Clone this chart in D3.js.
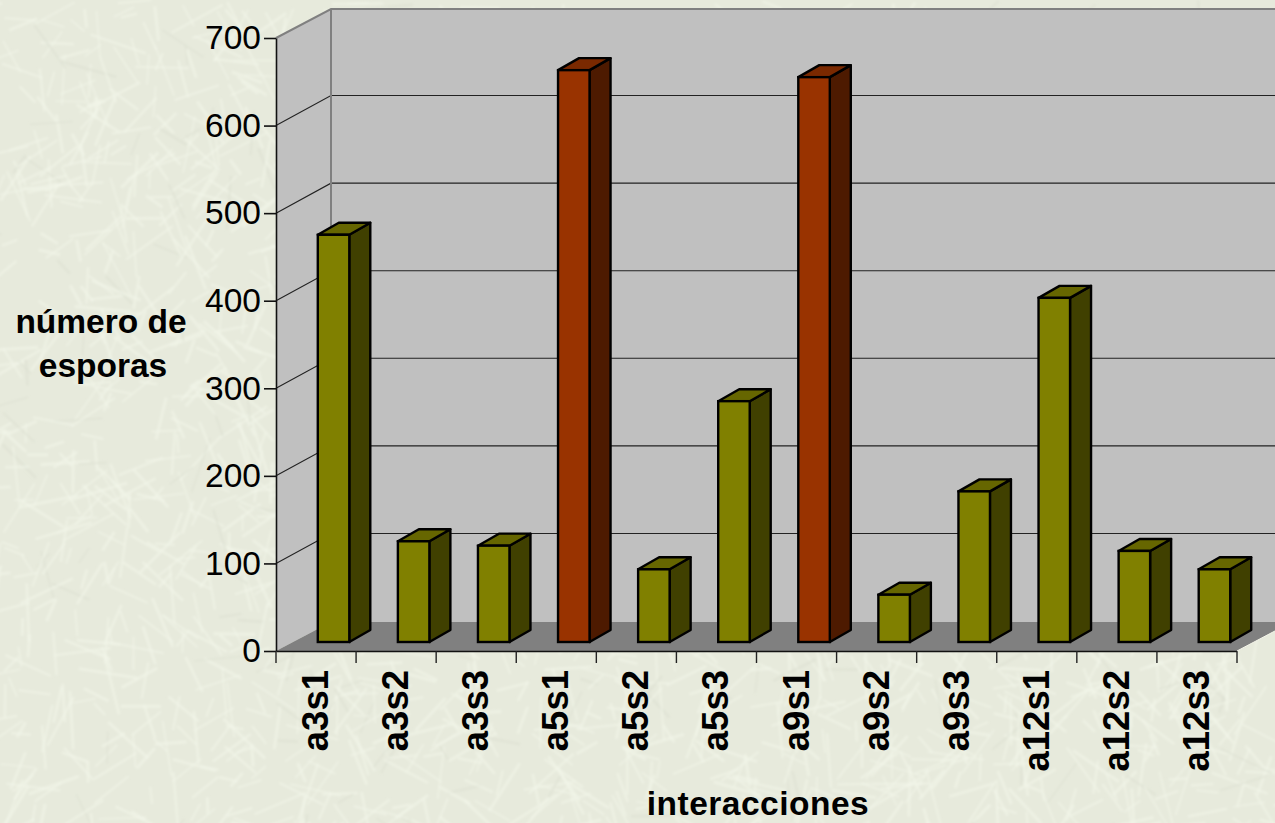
<!DOCTYPE html>
<html><head><meta charset="utf-8">
<script src="https://d3js.org/d3.v7.min.js"></script>
<style>html,body{margin:0;padding:0;background:#e9ecdd;overflow:hidden}svg{display:block}text{font-family:"Liberation Sans",Arial,sans-serif;fill:#000}</style>
</head><body><svg id="c" width="1275" height="823"></svg>
<script>
const categories=["a3s1","a3s2","a3s3","a5s1","a5s2","a5s3","a9s1","a9s2","a9s3","a12s1","a12s2","a12s3"];
const values=[465,115,110,653,83,275,645,54,172,393,104,83];
const highlighted=["a5s1","a9s1"];
const yTicks=[0,100,200,300,400,500,600,700];

const W=1275,H=823;
const svg=d3.select("#c");
// decorative paper-fibre backdrop (seeded, not data)
const defs=svg.append("defs");
defs.append("filter").attr("id","soft").attr("x","-20%").attr("y","-20%").attr("width","140%").attr("height","140%")
  .append("feGaussianBlur").attr("stdDeviation",1.1);
svg.append("rect").attr("width",W).attr("height",H).attr("fill","#e7eadc");
const rnd=d3.randomLcg(0.37),fib=svg.append("g").attr("filter","url(#soft)");
for(let i=0;i<2600;i++){
  const x=rnd()*W,y=rnd()*H,a=rnd()*Math.PI,l=16+rnd()*44;
  fib.append("line").attr("x1",x).attr("y1",y).attr("x2",x+Math.cos(a)*l).attr("y2",y+Math.sin(a)*l)
    .attr("stroke",rnd()<0.9?"#f3f5ea":"#dde0d1").attr("stroke-width",1.6+rnd()*1.6).attr("stroke-opacity",.55);
}

const x=d3.scaleBand().domain(categories).range([276,1237]);
const y=d3.scaleLinear().domain([0,700]).range([651,38]);
const wallD={x:55,y:-29},barShift={x:17.5,y:-9},barD={x:21,y:-12},barW=31.5;
const x0=x.range()[0],x1=x.range()[1],y0=y(0),yT=y(700);
const pts=a=>a.map(p=>p.join(",")).join(" ");

// walls and floor
svg.append("polygon").attr("fill","#c0c0c0").attr("points",pts([[x0,yT],[x0+wallD.x,yT+wallD.y],[x0+wallD.x,y0+wallD.y],[x0,y0]]));
svg.append("polygon").attr("fill","#c0c0c0").attr("points",pts([[x0+wallD.x,yT+wallD.y],[W+2,yT+wallD.y],[W+2,y0+wallD.y],[x0+wallD.x,y0+wallD.y]]));
svg.append("polygon").attr("fill","#808080").attr("points",pts([[x0,y0],[x1,y0],[x1+wallD.x,y0+wallD.y],[x0+wallD.x,y0+wallD.y]]));
// gridlines
svg.append("g").selectAll("path").data(yTicks.slice(1,-1)).join("path").attr("fill","none").attr("stroke","#222").attr("stroke-width",1.1)
  .attr("d",v=>`M${x0},${y(v)}L${x0+wallD.x},${y(v)+wallD.y-1}L${W+2},${y(v)+wallD.y-1}`);
// wall edges
svg.append("path").attr("fill","none").attr("stroke","#808080").attr("stroke-width",2)
  .attr("d",`M${x0},${yT}L${x0+wallD.x},${yT+wallD.y}L${W+2},${yT+wallD.y}M${x0+wallD.x},${yT+wallD.y}V${y0+wallD.y}`);

// bars
const bars=svg.append("g").selectAll("g").data(categories.map((c,i)=>({c,v:values[i]}))).join("g");
const bx=d=>x(d.c)+x.bandwidth()/2+barShift.x-barW/2;
const bb=y0+barShift.y;
const by=d=>y(d.v)+barShift.y;
const hi=d=>highlighted.includes(d.c);
const sw=2.4;
bars.append("polygon").attr("fill",d=>hi(d)?"#4d1a00":"#404000").attr("stroke","#000").attr("stroke-width",sw).attr("stroke-linejoin","round")
  .attr("points",d=>pts([[bx(d)+barW,by(d)],[bx(d)+barW+barD.x,by(d)+barD.y],[bx(d)+barW+barD.x,bb+barD.y],[bx(d)+barW,bb]]));
bars.append("polygon").attr("fill",d=>hi(d)?"#7a2900":"#666600").attr("stroke","#000").attr("stroke-width",sw).attr("stroke-linejoin","round")
  .attr("points",d=>pts([[bx(d),by(d)],[bx(d)+barD.x,by(d)+barD.y],[bx(d)+barW+barD.x,by(d)+barD.y],[bx(d)+barW,by(d)]]));
bars.append("rect").attr("fill",d=>hi(d)?"#993300":"#808000").attr("stroke","#000").attr("stroke-width",sw)
  .attr("x",bx).attr("y",by).attr("width",barW).attr("height",d=>bb-by(d));

// axes
const yAxis=svg.append("g").attr("transform",`translate(${x0},0)`).call(d3.axisLeft(y).tickValues(yTicks).tickSize(12).tickPadding(3).tickSizeOuter(0));
yAxis.selectAll("path,line").attr("stroke","#111").attr("stroke-width",1.6);
yAxis.selectAll("text").style("font-family",'"Liberation Sans",Arial,sans-serif').style("font-size","33.5px").attr("fill","#000");
const xAxis=svg.append("g").attr("transform",`translate(0,${y0})`).call(d3.axisBottom(x).tickSize(0).tickFormat(""));
xAxis.select("path").attr("stroke","#111").attr("stroke-width",1.6);
svg.append("g").selectAll("line").data(categories.map(c=>x(c)).concat([x1])).join("line")
  .attr("x1",d=>d).attr("x2",d=>d).attr("y1",y0).attr("y2",y0+12).attr("stroke","#222").attr("stroke-width",1.4);
svg.append("line").attr("x1",x1).attr("y1",y0).attr("x2",x1+wallD.x).attr("y2",y0+wallD.y).attr("stroke","#f4f5ea").attr("stroke-width",1);
// category labels
svg.append("g").selectAll("text").data(categories).join("text")
  .attr("transform",d=>`translate(${x(d)+x.bandwidth()/2+12},670) rotate(-90)`)
  .attr("text-anchor","end").style("font-size","36.5px").style("font-weight","bold").text(d=>d);
// axis titles
const t=svg.append("g").style("font-size","33.5px").style("font-weight","bold").attr("text-anchor","middle");
t.append("text").attr("x",101).attr("y",333).text("número de");
t.append("text").attr("x",103).attr("y",377).text("esporas");
t.append("text").attr("x",758).attr("y",815).style("letter-spacing","0.5px").text("interacciones");
</script></body></html>
